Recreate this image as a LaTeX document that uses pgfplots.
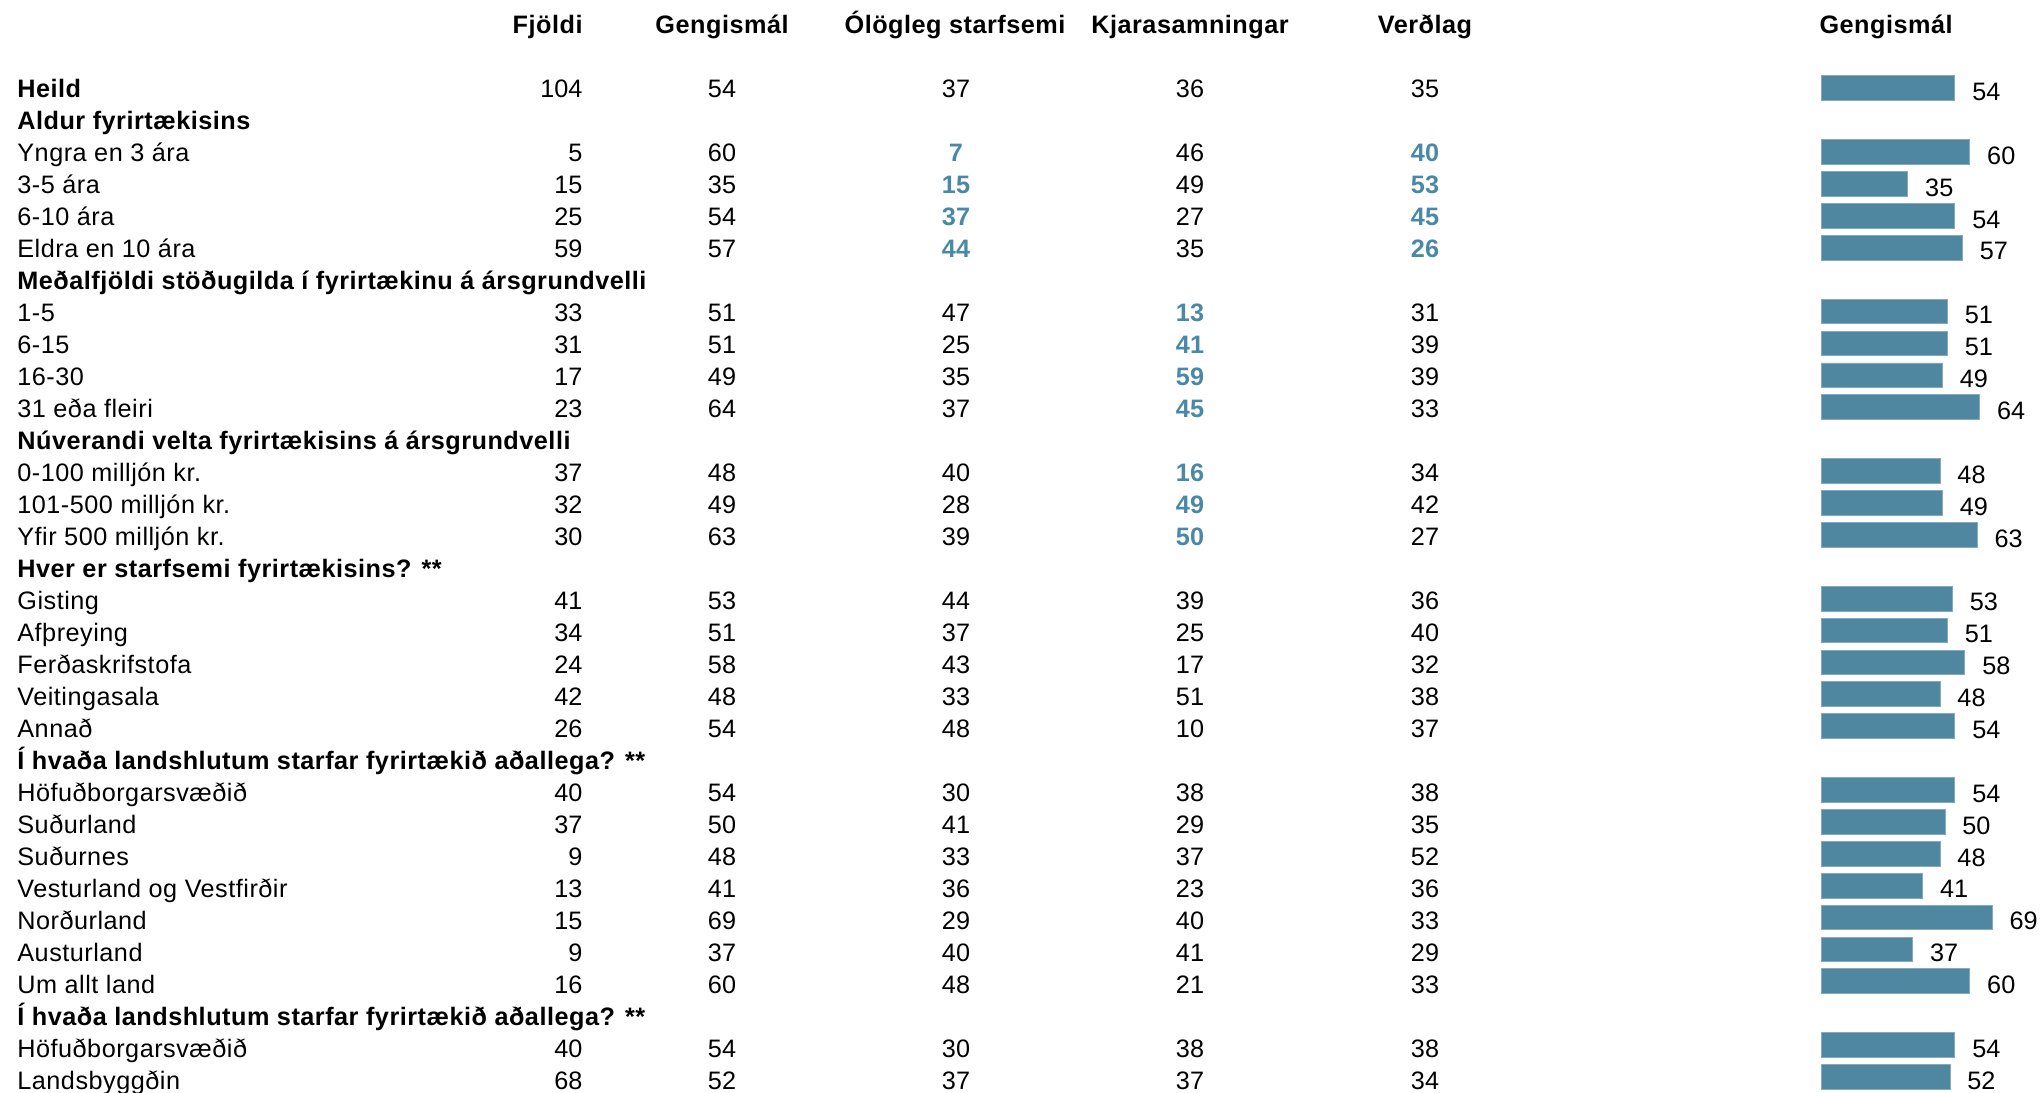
\documentclass[border=0pt]{standalone}
\usepackage{pgfplots}
\usepackage{pgfplotstable}
\pgfplotsset{compat=1.18}
\usepackage{fontspec}
\setmainfont{Liberation Sans}
\newfontfamily\lsfont{Liberation Sans}[LetterSpace=2]
\definecolor{barc}{RGB}{79,134,160}
\definecolor{hlc}{RGB}{74,137,165}
\newcommand{\fs}{\fontsize{10.6}{12.5}\selectfont}

\pgfplotstableread{
row fj gen olo kja ver
0 104 54 37 36 35
2 5 60 7 46 40
3 15 35 15 49 53
4 25 54 37 27 45
5 59 57 44 35 26
7 33 51 47 13 31
8 31 51 25 41 39
9 17 49 35 59 39
10 23 64 37 45 33
12 37 48 40 16 34
13 32 49 28 49 42
14 30 63 39 50 27
16 41 53 44 39 36
17 34 51 37 25 40
18 24 58 43 17 32
19 42 48 33 51 38
20 26 54 48 10 37
22 40 54 30 38 38
23 37 50 41 29 35
24 9 48 33 37 52
25 13 41 36 23 36
26 15 69 29 40 33
27 9 37 40 41 29
28 16 60 48 21 33
30 40 54 30 38 38
31 68 52 37 37 34
}\data

\begin{document}
\begin{tikzpicture}[font=\fs]
\begin{axis}[
  at={(0pt,0pt)}, anchor=south west,
  scale only axis, width=858.06pt, height=458.64pt,
  xmin=0, xmax=2043, ymin=-2.77, ymax=31.36, y dir=reverse,
  axis line style={draw=none}, tick style={draw=none}, major tick length=0pt,
  xtick=\empty, ytick={0,...,31},
  yticklabels={\textbf{Heild},\textbf{Aldur fyrirtækisins},Yngra en 3 ára,3-5 ára,6-10 ára,Eldra en 10 ára,\textbf{Meðalfjöldi stöðugilda í fyrirtækinu á ársgrundvelli},1-5,6-15,16-30,31 eða fleiri,\textbf{Núverandi velta fyrirtækisins á ársgrundvelli},0-100 milljón kr.,101-500 milljón kr.,Yfir 500 milljón kr.,\textbf{Hver er starfsemi fyrirtækisins? **},Gisting,Afþreying,Ferðaskrifstofa,Veitingasala,Annað,\textbf{Í hvaða landshlutum starfar fyrirtækið aðallega? **},Höfuðborgarsvæðið,Suðurland,Suðurnes,Vesturland og Vestfirðir,Norðurland,Austurland,Um allt land,\textbf{Í hvaða landshlutum starfar fyrirtækið aðallega? **},Höfuðborgarsvæðið,Landsbyggðin},
  yticklabel style={anchor=west, inner sep=0pt, xshift=7.1pt, font=\fs\lsfont, text height=0.716em, text depth=0pt},
  clip=false,
  every node near coord/.append style={anchor=center, inner sep=0pt, font=\fs},
  point meta=explicit symbolic,
]
\path (rel axis cs:0,0) rectangle (rel axis cs:1,1);
% headers
\begin{scope}[every node/.style={font=\fs\lsfont\bfseries, inner sep=0pt, text height=0.716em, text depth=0pt}]
\node[anchor=east] at (axis cs:583,-2) {Fjöldi};
\node at (axis cs:722,-2) {Gengismál};
\node at (axis cs:955,-2) {Ólögleg starfsemi};
\node at (axis cs:1190,-2) {Kjarasamningar};
\node at (axis cs:1425,-2) {Verðlag};
\node[anchor=west] at (axis cs:1819,-2) {Gengismál};
\end{scope}
% columns
\addplot[draw=none, mark=none, nodes near coords, every node near coord/.append style={anchor=east}] table[x expr=583, y=row, meta=fj]{\data};
\addplot[draw=none, mark=none, nodes near coords] table[x expr=722, y=row, meta=gen]{\data};
\addplot[draw=none, mark=none, nodes near coords, skip coords between index={1}{5}] table[x expr=956, y=row, meta=olo]{\data};
\addplot[draw=none, mark=none, nodes near coords, skip coords between index={0}{1}, skip coords between index={5}{26}, every node near coord/.append style={text=hlc, font=\fs\bfseries}] table[x expr=956, y=row, meta=olo]{\data};
\addplot[draw=none, mark=none, nodes near coords, skip coords between index={5}{12}] table[x expr=1190, y=row, meta=kja]{\data};
\addplot[draw=none, mark=none, nodes near coords, skip coords between index={0}{5}, skip coords between index={12}{26}, every node near coord/.append style={text=hlc, font=\fs\bfseries}] table[x expr=1190, y=row, meta=kja]{\data};
\addplot[draw=none, mark=none, nodes near coords, skip coords between index={1}{5}] table[x expr=1425, y=row, meta=ver]{\data};
\addplot[draw=none, mark=none, nodes near coords, skip coords between index={0}{1}, skip coords between index={5}{26}, every node near coord/.append style={text=hlc, font=\fs\bfseries}] table[x expr=1425, y=row, meta=ver]{\data};
\end{axis}
\begin{axis}[
  at={(764.82pt,0pt)}, anchor=south west,
  scale only axis, width=93.24pt, height=458.64pt,
  xmin=0, xmax=89.5, ymin=-2.769, ymax=31.47, y dir=reverse,
  hide axis, clip=false,
  xbar, bar width=10.4pt,
  nodes near coords,
  every node near coord/.append style={anchor=west, inner sep=0pt, xshift=7.1pt, yshift=-1.5pt, text=black, font=\fs},
  /pgf/number format/assume math mode=true,
]
\addplot[fill=barc, draw=barc!70!white, line width=0.4pt] table[x=gen, y=row]{\data};
\end{axis}
\pgfresetboundingbox
\path (0pt,0pt) rectangle (858.06pt,458.64pt);
\end{tikzpicture}
\end{document}
